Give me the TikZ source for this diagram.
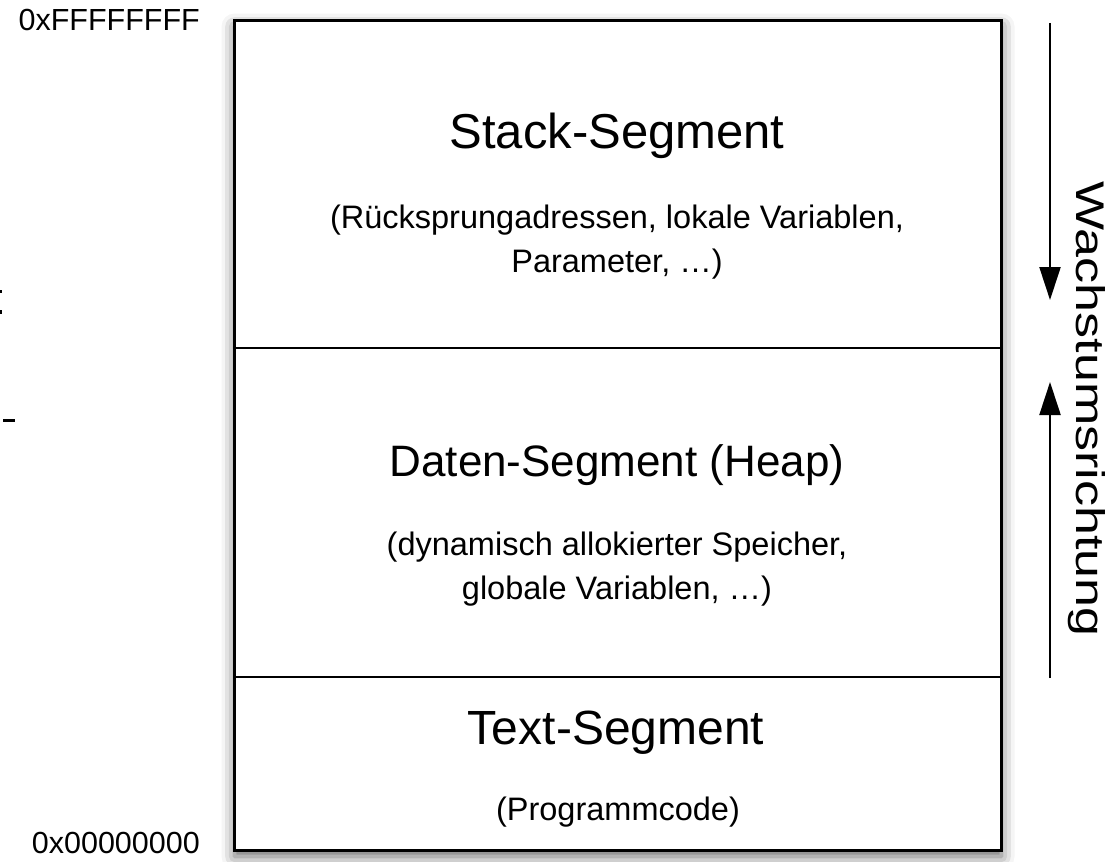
\documentclass[tikz,border=0pt]{standalone}
\usepackage{fontspec}
\setmainfont{Liberation Sans}
\usetikzlibrary{arrows.meta,shadows.blur}
\tikzset{
  seg/.style={draw=black, line width=3pt, fill=white,
    blur shadow={shadow xshift=0pt, shadow yshift=-6pt, shadow blur radius=13pt, shadow opacity=60}},
  divider/.style={draw=black, line width=2.6pt},
  title/.style={anchor=center, inner sep=0pt},
  sub/.style={font=\fontsize{32.5}{44}\selectfont, align=center, anchor=center, inner sep=0pt},
  addr/.style={font=\fontsize{30.5}{34}\selectfont, anchor=east, inner sep=0pt},
  growarrow/.style={line width=2.2pt, -{Triangle[width=21pt,length=33pt]}},
  remnant/.style={fill=black, draw=none}
}
\begin{document}
\begin{tikzpicture}[x=1pt,y=-1pt]
\useasboundingbox (0,0) rectangle (1115,861);
% memory box
\node[seg, minimum width=767pt, minimum height=830pt, inner sep=0pt, anchor=north west] (box) at (233,19) {};
\coordinate (d1l) at (233,348);
\coordinate (d1r) at (1000,348);
\coordinate (d2l) at (233,677);
\coordinate (d2r) at (1000,677);
\draw[divider] (d1l) -- (d1r);
\draw[divider] (d2l) -- (d2r);
% texts
\node[title, font=\fontsize{49}{54}\selectfont] (stack) at (617,136) {Stack-Segment};
\node[sub] (stacksub) at (617,242) {(Rücksprungadressen, lokale Variablen,\\Parameter, …)};
\node[title, font=\fontsize{44}{50}\selectfont] (daten) at (617,465) {Daten-Segment (Heap)};
\node[sub] (datensub) at (617,569) {(dynamisch allokierter Speicher,\\globale Variablen, …)};
\node[title, font=\fontsize{48}{54}\selectfont] (text) at (616,733) {Text-Segment};
\node[sub] (textsub) at (618,812) {(Programmcode)};
% addresses
\node[addr] (top) at (200,20) {0xFFFFFFFF};
\node[addr] (bottom) at (200,843) {0x00000000};
% growth arrows
\coordinate (a1s) at (1050,23);
\coordinate (a1e) at (1050,300);
\coordinate (a2s) at (1050,678);
\coordinate (a2e) at (1050,382);
\draw[growarrow] (a1s) -- (a1e);
\draw[growarrow] (a2s) -- (a2e);
\node[font=\fontsize{40}{44}\selectfont, rotate=-90, inner sep=0pt] (wachs) at (1087,409) {\scalebox{1.3}[1]{Wachstumsrichtung}};
% cropped remnants at left edge
\fill[remnant] (0,290) rectangle (2,293);
\fill[remnant] (0,310) rectangle (2,314);
\fill[remnant] (3,419) rectangle (15,422);
\end{tikzpicture}
\end{document}
